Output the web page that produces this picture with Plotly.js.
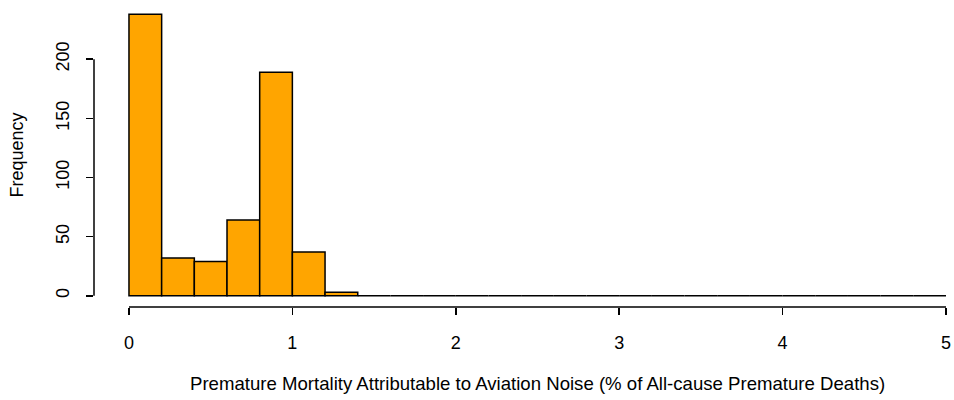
<!DOCTYPE html>
<html>
<head>
<meta charset="utf-8">
<script src="https://cdn.plot.ly/plotly-3.0.1.min.js"></script>
<style>html,body{margin:0;padding:0;background:#fff;}#chart{width:954px;height:400px;}</style>
</head>
<body>
<div id="chart"></div>
<script>
// Histogram bins (width 0.2 starting at 0) and counts
var binStart = 0;
var binWidth = 0.2;
var counts = [238, 32, 29, 64, 189, 37, 3,
              0, 0, 0, 0, 0, 0, 0, 0, 0, 0, 0, 0, 0, 0, 0, 0, 0, 0];
var xTicks = [0, 1, 2, 3, 4, 5];
var yTicks = [0, 50, 100, 150, 200];
var xTitle = "Premature Mortality Attributable to Aviation Noise (% of All-cause Premature Deaths)";
var yTitle = "Frequency";

var centers = counts.map(function (c, i) { return binStart + (i + 0.5) * binWidth; });

var xRange = [-0.214, 5.049];
var yRange = [-9.5, 247.5];

function px(v) { return (v - xRange[0]) / (xRange[1] - xRange[0]); }
function py(v) { return (v - yRange[0]) / (yRange[1] - yRange[0]); }

var font = "Liberation Sans, Arial, sans-serif";
var fs = 18;

var trace = {
  type: "bar",
  x: centers,
  y: counts,
  width: binWidth,
  marker: { color: "#FFA500", line: { color: "#000", width: 1.5 } },
  hoverinfo: "x+y"
};

var layout = {
  width: 954, height: 400,
  margin: { l: 94, r: 0, t: 3, b: 93 },
  paper_bgcolor: "#fff", plot_bgcolor: "#fff",
  showlegend: false,
  bargap: 0,
  font: { family: font, size: fs, color: "#000" },
  xaxis: {
    range: xRange, tickmode: "array", tickvals: xTicks, ticktext: xTicks.map(String),
    showgrid: false, zeroline: false, showline: false,
    ticks: "outside", ticklen: 7, tickwidth: 1.5, tickcolor: "#000",
    ticklabelstandoff: 12,
    tickfont: { family: font, size: fs, color: "#000" },
    automargin: false
  },
  yaxis: {
    range: yRange, tickmode: "array", tickvals: yTicks, ticktext: yTicks.map(String),
    showgrid: false, zeroline: false, showline: false,
    ticks: "outside", ticklen: 7, tickwidth: 1.5, tickcolor: "#000", tickangle: -90,
    ticklabelstandoff: 10,
    tickfont: { family: font, size: fs, color: "#000" },
    title: { text: yTitle, font: { family: font, size: fs, color: "#000" }, standoff: 24 },
    automargin: false
  },
  annotations: [
    { text: xTitle, xref: "paper", yref: "paper", x: px(2.5), y: 0,
      xanchor: "center", yanchor: "middle", yshift: -76, showarrow: false,
      font: { family: font, size: 18.6, color: "#000" } }
  ],
  shapes: [
    { type: "line", xref: "paper", yref: "paper", x0: px(xTicks[0]), x1: px(xTicks[xTicks.length - 1]), y0: 0, y1: 0,
      line: { color: "#000", width: 1.5 } },
    { type: "line", xref: "paper", yref: "paper", x0: 0, x1: 0, y0: py(yTicks[0]), y1: py(yTicks[yTicks.length - 1]),
      line: { color: "#000", width: 1.5 } }
  ]
};

Plotly.newPlot("chart", [trace], layout, { displayModeBar: false, staticPlot: true });
</script>
</body>
</html>
